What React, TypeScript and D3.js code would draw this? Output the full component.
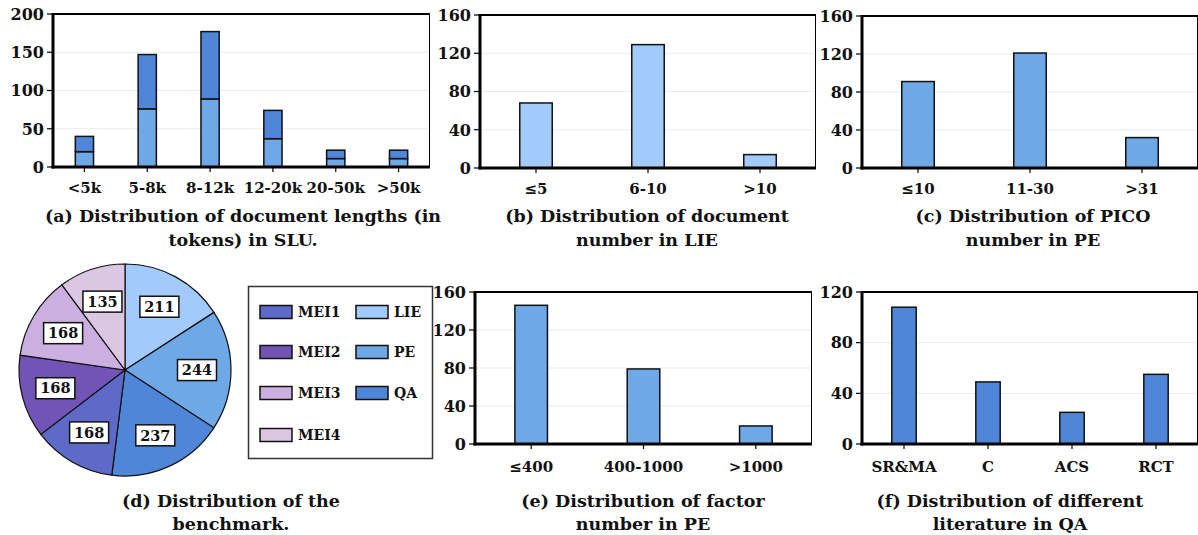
import React from "react";
import * as d3 from "d3";

const FONT = "'DejaVu Serif', 'Liberation Serif', serif";

// (a) document lengths in SLU (stacked)
const lenCats = ["<5k", "5-8k", "8-12k", "12-20k", "20-50k", ">50k"];
const lenLower = [20, 76, 89, 37, 11, 11];
const lenUpper = [20, 71, 88, 37, 11, 11];

// (b) document number in LIE
const docCats = ["≤5", "6-10", ">10"];
const docVals = [68, 129, 14];

// (c) PICO number in PE
const picoCats = ["≤10", "11-30", ">31"];
const picoVals = [91, 121, 32];

// (d) benchmark distribution
const pieNames = ["LIE", "PE", "QA", "MEI1", "MEI2", "MEI3", "MEI4"];
const pieVals = [211, 244, 237, 168, 168, 168, 135];
const legendOrder = ["MEI1", "MEI2", "MEI3", "MEI4", "LIE", "PE", "QA"];

// (e) factor number in PE
const facCats = ["≤400", "400-1000", ">1000"];
const facVals = [146, 79, 19];

// (f) literature in QA
const litCats = ["SR&MA", "C", "ACS", "RCT"];
const litVals = [108, 49, 25, 55];

const COLORS: Record<string, string> = {
  LIE: "#a2cafa",
  PE: "#6ea8e6",
  QA: "#4f86d8",
  MEI1: "#5e69c8",
  MEI2: "#7154b6",
  MEI3: "#cbafe0",
  MEI4: "#dcc7e3",
};

type PanelProps = {
  cats: string[];
  series: number[][];
  colors: string[];
  x0: number;
  x1: number;
  yTop: number;
  yBot: number;
  yMax: number;
  step: number;
  labelY: number;
  caption: string[];
  capX: number;
  capY: number[];
};

function BarPanel(p: PanelProps) {
  const x = d3.scaleBand<string>().domain(p.cats).range([p.x0, p.x1]).padding(0);
  const y = d3.scaleLinear().domain([0, p.yMax]).range([p.yBot, p.yTop]);
  const ticks = d3.range(0, p.yMax + 1, p.step);
  const bw = x.bandwidth() * 0.29;
  const stacks = p.cats.map((c, i) => {
    let acc = 0;
    return p.series.map((s, k) => {
      const y0 = acc;
      acc += s[i];
      return { c, y0, y1: acc, k };
    });
  });
  return (
    <g>
      {ticks.map((t) =>
        t > 0 && t < p.yMax ? (
          <line key={"g" + t} x1={p.x0} x2={p.x1} y1={y(t)} y2={y(t)} stroke="#ebebeb" strokeWidth={1} />
        ) : null
      )}
      {stacks.map((st, i) =>
        st.map((s) => (
          <rect
            key={i + "-" + s.k}
            x={(x(s.c) as number) + x.bandwidth() / 2 - bw / 2}
            y={y(s.y1)}
            width={bw}
            height={y(s.y0) - y(s.y1)}
            fill={p.colors[s.k]}
            stroke="#111"
            strokeWidth={1.5}
          />
        ))
      )}
      {/* frame */}
      <line x1={p.x0} x2={p.x1} y1={p.yTop} y2={p.yTop} stroke="#000" strokeWidth={2} />
      <line x1={p.x1 - 0.5} x2={p.x1 - 0.5} y1={p.yTop} y2={p.yBot} stroke="#000" strokeWidth={1} />
      <line x1={p.x0} x2={p.x0} y1={p.yTop - 1} y2={p.yBot + 1.5} stroke="#000" strokeWidth={3} />
      <line x1={p.x0 - 1.5} x2={p.x1} y1={p.yBot} y2={p.yBot} stroke="#000" strokeWidth={3} />
      {ticks.map((t) => (
        <g key={"t" + t}>
          <line x1={p.x0 - 6} x2={p.x0} y1={y(t)} y2={y(t)} stroke="#000" strokeWidth={1.2} />
          <text
            x={p.x0 - 9}
            y={y(t)}
            dy="0.36em"
            textAnchor="end"
            fontFamily={FONT}
            fontWeight="bold"
            fontSize={16}
            fill="#111"
          >
            {t}
          </text>
        </g>
      ))}
      {p.cats.map((c) => {
        const cx = (x(c) as number) + x.bandwidth() / 2;
        return (
          <g key={"x" + c}>
            <line x1={cx} x2={cx} y1={p.yBot} y2={p.yBot + 5} stroke="#000" strokeWidth={1.2} />
            <text x={cx} y={p.labelY} textAnchor="middle" fontFamily={FONT} fontWeight="bold" fontSize={15} fill="#111">
              {c}
            </text>
          </g>
        );
      })}
      {p.caption.map((line, i) => (
        <text
          key={"c" + i}
          x={p.capX}
          y={p.capY[i]}
          textAnchor="middle"
          fontFamily={FONT}
          fontWeight="bold"
          fontSize={17.5}
          fill="#111"
        >
          {line}
        </text>
      ))}
    </g>
  );
}

function PiePanel() {
  const cx = 125;
  const cy = 370;
  const r = 106;
  const data = pieNames.map((n, i) => ({ name: n, value: pieVals[i] }));
  const pie = d3
    .pie<{ name: string; value: number }>()
    .sort(null)
    .value((d) => d.value);
  const arcs = pie(data);
  const arc = d3.arc<d3.PieArcDatum<{ name: string; value: number }>>().innerRadius(0).outerRadius(r);
  const labelArc = d3.arc<d3.PieArcDatum<{ name: string; value: number }>>().innerRadius(72).outerRadius(72);
  const legendX = [260, 356];
  const legendY = [312, 352, 393, 435];
  return (
    <g>
      <g transform={`translate(${cx},${cy})`}>
        {arcs.map((a) => (
          <path key={a.data.name} d={arc(a) as string} fill={COLORS[a.data.name]} stroke="#111" strokeWidth={1.2} />
        ))}
        {arcs.map((a) => {
          const [lx, ly] = labelArc.centroid(a);
          return (
            <g key={"l" + a.data.name} transform={`translate(${lx},${ly})`}>
              <rect x={-19.5} y={-10.5} width={39} height={21} fill="#fff" stroke="#111" strokeWidth={1.5} />
              <text
                x={0}
                y={0}
                dy="0.36em"
                textAnchor="middle"
                fontFamily={FONT}
                fontWeight="bold"
                fontSize={14.5}
                fill="#111"
              >
                {a.data.value}
              </text>
            </g>
          );
        })}
      </g>
      <rect x={248.5} y={286.5} width={184} height={172} fill="#fff" stroke="#333" strokeWidth={1.5} />
      {legendOrder.map((n, i) => {
        const col = i < 4 ? 0 : 1;
        const row = i < 4 ? i : i - 4;
        const lx = legendX[col];
        const ly = legendY[row];
        return (
          <g key={"lg" + n}>
            <rect x={lx} y={ly - 6.5} width={32} height={13} fill={COLORS[n]} stroke="#111" strokeWidth={1.5} />
            <text x={lx + 38} y={ly} dy="0.36em" fontFamily={FONT} fontWeight="bold" fontSize={14} fill="#111">
              {n}
            </text>
          </g>
        );
      })}
      {["(d) Distribution of the", "benchmark."].map((line, i) => (
        <text
          key={"dc" + i}
          x={231}
          y={[507, 530][i]}
          textAnchor="middle"
          fontFamily={FONT}
          fontWeight="bold"
          fontSize={17.5}
          fill="#111"
        >
          {line}
        </text>
      ))}
    </g>
  );
}

export default function App() {
  return (
    <svg
      width={1198}
      height={535}
      viewBox="0 0 1198 535"
      style={{ position: "absolute", left: 0, top: 0, background: "#fff" }}
    >
      <rect x={0} y={0} width={1198} height={535} fill="#fff" />
      <BarPanel
        cats={lenCats}
        series={[lenLower, lenUpper]}
        colors={[COLORS.PE, COLORS.QA]}
        x0={53}
        x1={430}
        yTop={14}
        yBot={167}
        yMax={200}
        step={50}
        labelY={193}
        caption={["(a) Distribution of document lengths (in", "tokens) in SLU."]}
        capX={243}
        capY={[222, 246]}
      />
      <BarPanel
        cats={docCats}
        series={[docVals]}
        colors={[COLORS.LIE]}
        x0={480}
        x1={816}
        yTop={15}
        yBot={168}
        yMax={160}
        step={40}
        labelY={194}
        caption={["(b) Distribution of document", "number in LIE"]}
        capX={647}
        capY={[222, 246]}
      />
      <BarPanel
        cats={picoCats}
        series={[picoVals]}
        colors={[COLORS.PE]}
        x0={862}
        x1={1198}
        yTop={16}
        yBot={168}
        yMax={160}
        step={40}
        labelY={194}
        caption={["(c) Distribution of PICO", "number in PE"]}
        capX={1033}
        capY={[222, 246]}
      />
      <PiePanel />
      <BarPanel
        cats={facCats}
        series={[facVals]}
        colors={[COLORS.PE]}
        x0={475}
        x1={812}
        yTop={292}
        yBot={444}
        yMax={160}
        step={40}
        labelY={472}
        caption={["(e) Distribution of factor", "number in PE"]}
        capX={643}
        capY={[507, 530]}
      />
      <BarPanel
        cats={litCats}
        series={[litVals]}
        colors={[COLORS.QA]}
        x0={862}
        x1={1198}
        yTop={292}
        yBot={444}
        yMax={120}
        step={40}
        labelY={472}
        caption={["(f) Distribution of different", "literature in QA"]}
        capX={1010}
        capY={[507, 530]}
      />
    </svg>
  );
}
